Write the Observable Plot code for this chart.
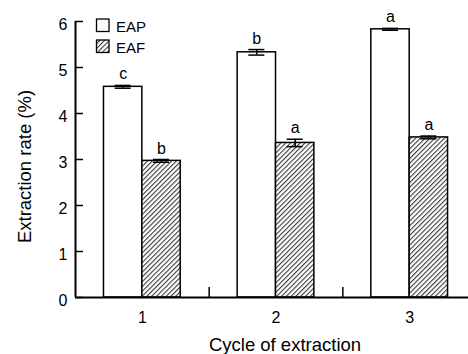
<!DOCTYPE html>
<html>
<head>
<meta charset="utf-8">
<script src="https://cdn.jsdelivr.net/npm/d3@7"></script>
<script src="https://cdn.jsdelivr.net/npm/@observablehq/plot@0.6"></script>
<style>
  html, body { margin: 0; padding: 0; background: white; }
  #chart { width: 468px; height: 354px; position: relative; }
</style>
</head>
<body>
<div id="chart"></div>
<script>
// ---- data ----
const cycles = [1, 2, 3];
const seriesNames = ["EAP", "EAF"];
const eapValues = [4.58, 5.33, 5.83];
const eapErrors = [0.03, 0.06, 0.02];
const eafValues = [2.97, 3.36, 3.48];
const eafErrors = [0.03, 0.08, 0.03];
const eapLetters = ["c", "b", "a"];
const eafLetters = ["b", "a", "a"];
const yTicks = [0, 1, 2, 3, 4, 5, 6];
const separators = [1.5, 2.5];
const xLabel = "Cycle of extraction";
const yLabel = "Extraction rate (%)";

// ---- layout constants ----
const W = 0.287;      // bar width in x units
const CAP = 0.06;     // half cap width in x units
const YTICK = 0.06;   // inward y tick length in x units
const XTICK = 0.217;  // upward separator tick length in y units
const FONT = "'Liberation Sans', Arial, Helvetica, sans-serif";

const rows = cycles.flatMap((c, i) => [
  {cycle: c, series: seriesNames[0], value: eapValues[i], err: eapErrors[i], letter: eapLetters[i]},
  {cycle: c, series: seriesNames[1], value: eafValues[i], err: eafErrors[i], letter: eafLetters[i]}
]);
const x1 = d => d.series === "EAP" ? d.cycle - W : d.cycle;
const x2 = d => d.series === "EAP" ? d.cycle : d.cycle + W;
const xc = d => d.series === "EAP" ? d.cycle - W / 2 : d.cycle + W / 2;

const svg = Plot.plot({
  width: 468,
  height: 354,
  marginLeft: 75,
  marginRight: 0,
  marginTop: 21,
  marginBottom: 57,
  style: {fontFamily: FONT, fontSize: "16px", color: "black", background: "white"},
  x: {domain: [0.5, 3.44]},
  y: {domain: [0, 6]},
  marks: [
    Plot.rectY(rows, {
      x1, x2, y: "value",
      fill: d => d.series === "EAP" ? "white" : "url(#hatch)",
      stroke: "black", strokeWidth: 1.5
    }),
    // error bars
    Plot.ruleX(rows, {x: xc, y1: d => d.value - d.err, y2: d => d.value + d.err, stroke: "black", strokeWidth: 1.5}),
    Plot.ruleY(rows, {y: d => d.value + d.err, x1: d => xc(d) - CAP, x2: d => xc(d) + CAP, stroke: "black", strokeWidth: 1.5}),
    Plot.ruleY(rows, {y: d => d.value - d.err, x1: d => xc(d) - CAP, x2: d => xc(d) + CAP, stroke: "black", strokeWidth: 1.5}),
    // significance letters
    Plot.text(rows, {x: xc, y: d => d.value + d.err, text: "letter", dy: -6, lineAnchor: "bottom", fontSize: 16, fill: "black"}),
    // axes
    Plot.axisY(yTicks, {tickSize: 0, tickPadding: 8, dy: 3, label: null, fontSize: 16, fill: "black"}),
    Plot.ruleY(yTicks, {x1: 0.5, x2: 0.5 + YTICK, stroke: "black", strokeWidth: 1.5}),
    Plot.axisX(cycles, {tickSize: 0, tickPadding: 14, tickFormat: d => String(d), label: null, fontSize: 16, fill: "black"}),
    Plot.ruleX(separators, {y1: 0, y2: XTICK, stroke: "black", strokeWidth: 1.5}),
    Plot.ruleX([0.5], {y1: 0, y2: 6, stroke: "black", strokeWidth: 2}),
    Plot.ruleY([0], {stroke: "black", strokeWidth: 2}),
    // axis titles
    Plot.text([yLabel], {frameAnchor: "left", textAnchor: "middle", rotate: -90, dx: -45, dy: 7, lineAnchor: "bottom", fontSize: 18.5, fill: "black"}),
    Plot.text([xLabel], {frameAnchor: "bottom", textAnchor: "middle", dx: 13, dy: 53, lineAnchor: "bottom", fontSize: 18.5, fill: "black"})
  ]
});

// hatch pattern
const s = d3.select(svg);
const defs = s.insert("defs", ":first-child");
const pat = defs.append("pattern")
  .attr("id", "hatch")
  .attr("patternUnits", "userSpaceOnUse")
  .attr("width", 3.4).attr("height", 3.4)
  .attr("patternTransform", "rotate(45)");
pat.append("rect").attr("width", 3.4).attr("height", 3.4).attr("fill", "white");
pat.append("line").attr("x1", 0.55).attr("y1", 0).attr("x2", 0.55).attr("y2", 3.4)
  .attr("stroke", "#3a3a3a").attr("stroke-width", 1.1);

// legend
const legend = s.append("g").attr("font-family", FONT).attr("font-size", 15).attr("text-anchor", "start");
seriesNames.forEach((name, i) => {
  const y0 = 19 + i * 21;
  legend.append("rect").attr("x", 96.5).attr("y", y0).attr("width", 12.5).attr("height", 12.5)
    .attr("fill", i === 0 ? "white" : "url(#hatch)").attr("stroke", "black").attr("stroke-width", 1.3);
  legend.append("text").attr("x", 116).attr("y", y0 + 12.5).attr("fill", "black").attr("text-anchor", "start").text(name);
});

document.getElementById("chart").appendChild(svg);
</script>
</body>
</html>
